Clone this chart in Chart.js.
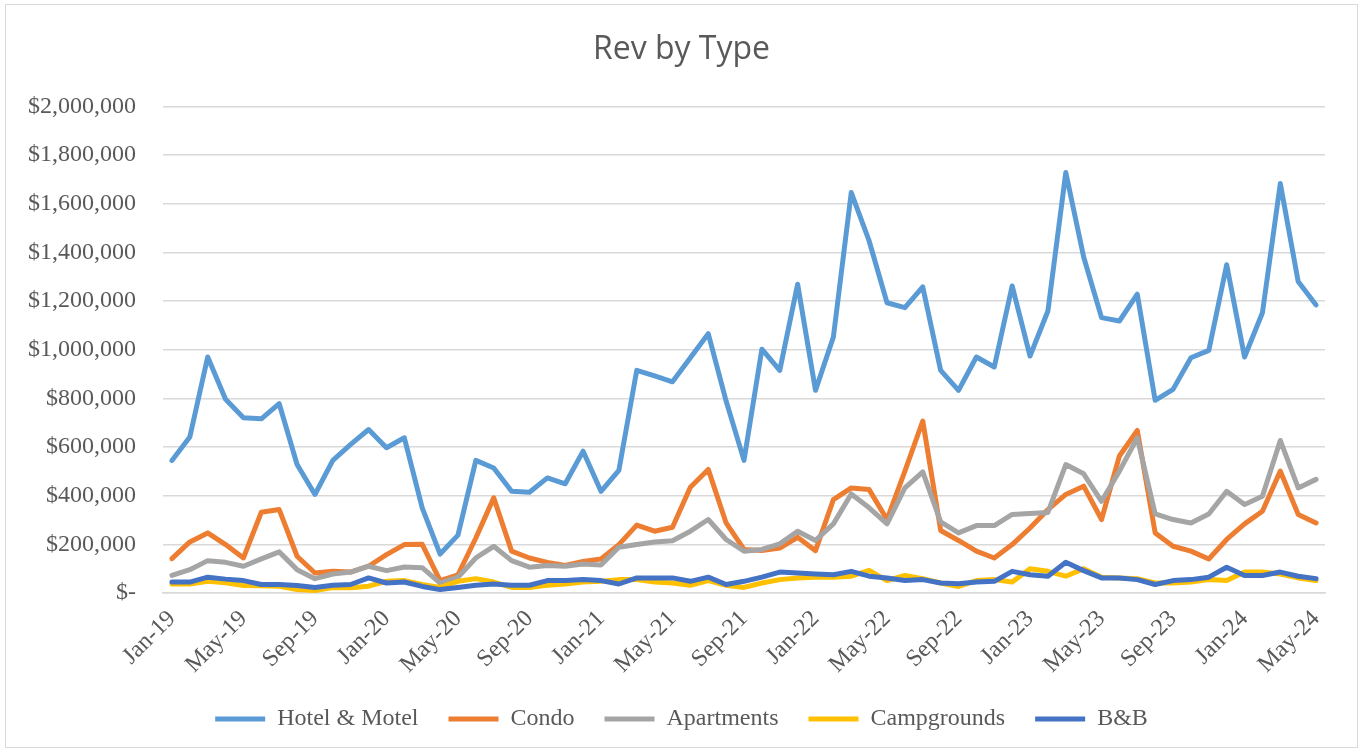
<!DOCTYPE html>
<html>
<head>
<meta charset="utf-8">
<script src="https://cdn.jsdelivr.net/npm/chart.js@4.4.1/dist/chart.umd.min.js"></script>
<style>
html, body { margin: 0; padding: 0; background: #fff; }
#wrap { position: absolute; left: 0; top: 0; width: 1363px; height: 751px; }
#frame { position: absolute; left: 5px; top: 4px; width: 1353px; height: 744px; border: 1px solid #d9d9d9; box-sizing: border-box; pointer-events: none; }
</style>
</head>
<body>
<div id="wrap">
  <canvas id="c" width="1363" height="751"></canvas>
  <div id="frame"></div>
</div>
<script>
// months, Jan-19 .. May-24
const months = [
  'Jan-19','Feb-19','Mar-19','Apr-19','May-19','Jun-19','Jul-19','Aug-19','Sep-19','Oct-19','Nov-19','Dec-19',
  'Jan-20','Feb-20','Mar-20','Apr-20','May-20','Jun-20','Jul-20','Aug-20','Sep-20','Oct-20','Nov-20','Dec-20',
  'Jan-21','Feb-21','Mar-21','Apr-21','May-21','Jun-21','Jul-21','Aug-21','Sep-21','Oct-21','Nov-21','Dec-21',
  'Jan-22','Feb-22','Mar-22','Apr-22','May-22','Jun-22','Jul-22','Aug-22','Sep-22','Oct-22','Nov-22','Dec-22',
  'Jan-23','Feb-23','Mar-23','Apr-23','May-23','Jun-23','Jul-23','Aug-23','Sep-23','Oct-23','Nov-23','Dec-23',
  'Jan-24','Feb-24','Mar-24','Apr-24','May-24'
]

// values in $ thousands
const hotelMotel = [545,641,970,796,720,716,778,528,405,545,611,672,
  597,638,350,160,238,545,514,418,414,473,449,583,
  418,504,915,892,868,967,1066,789,545,1002,915,1269,
  833,1052,1646,1447,1193,1173,1258,915,833,970,929,1262,
  974,1159,1728,1381,1132,1118,1228,792,837,967,997,1349,
  970,1152,1683,1280,1184]
const condo = [141,210,247,199,144,332,343,151,82,89,86,110,
  158,199,200,51,75,226,391,172,144,126,113,130,
  140,199,279,254,270,435,508,288,179,175,185,229,
  174,384,432,425,302,501,707,257,216,172,144,199,
  267,343,405,439,302,563,668,247,192,172,140,220,
  284,336,501,323,288]
const apartments = [72,96,133,126,110,140,169,96,59,78,86,110,
  92,107,104,41,65,144,192,133,106,113,110,119,
  115,188,199,210,215,254,302,220,172,179,202,254,
  216,284,407,350,284,432,498,292,247,277,277,323,
  327,331,528,490,377,501,638,325,302,288,325,418,
  364,398,627,432,467]
const campgrounds = [37,37,48,42,31,30,28,14,10,22,22,28,
  48,51,35,23,48,59,45,23,23,32,37,45,
  48,55,55,45,41,32,51,32,23,41,55,62,
  65,65,69,93,51,72,59,41,27,51,55,45,
  100,89,69,100,65,62,59,41,41,45,55,51,
  86,86,78,62,51]
const bnb = [45,45,65,57,51,35,35,31,23,32,35,62,
  41,45,27,14,23,32,37,32,32,51,51,55,
  51,37,62,62,62,48,65,35,48,65,86,82,
  78,75,89,69,62,51,55,41,38,45,48,89,
  75,69,126,92,62,62,55,35,51,55,65,106,
  72,72,86,69,59]

const names = ['Hotel & Motel', 'Condo', 'Apartments', 'Campgrounds', 'B&B']
const colors = ['#5B9BD5', '#ED7D31', '#A5A5A5', '#FFC000', '#4472C4']
const series = [hotelMotel, condo, apartments, campgrounds, bnb]

const serif = "'Liberation Serif', 'Times New Roman', serif"

function money(v) {
  if (v === 0) return '$-'
  return '$' + v.toLocaleString('en-US')
}

const datasets = series.map((vals, i) => ({
  label: names[i],
  data: vals.map(v => v * 1000),
  borderColor: colors[i],
  backgroundColor: colors[i],
  borderWidth: 5,
  borderJoinStyle: 'round',
  borderCapStyle: 'round',
  pointRadius: 0,
  tension: 0,
  fill: false,
  order: 5 - i
}))

new Chart(document.getElementById('c'), {
  type: 'line',
  data: { labels: months, datasets: datasets },
  options: {
    responsive: false,
    animation: false,
    layout: { padding: { left: 0, right: 0, top: 0, bottom: 10 } },
    plugins: {
      title: {
        display: true,
        text: 'Rev by Type',
        color: '#595959',
        font: { family: "'Open Sans', sans-serif", size: 32, weight: 'normal' },
        padding: { top: 31, bottom: 37 }
      },
      legend: {
        position: 'bottom',
        labels: {
          color: '#595959',
          font: { family: serif, size: 24 },
          usePointStyle: true,
          pointStyle: 'line',
          pointStyleWidth: 50,
          padding: 30,
          sort: (a, b) => a.datasetIndex - b.datasetIndex
        }
      },
      tooltip: { enabled: false }
    },
    scales: {
      x: {
        offset: true,
        grid: { display: false },
        border: { color: '#d9d9d9', width: 1.5 },
        ticks: {
          autoSkip: false,
          maxRotation: 45,
          minRotation: 45,
          padding: 4,
          color: '#595959',
          font: { family: serif, size: 24 },
          callback: function (v, i) { return i % 4 === 0 ? months[i] : '' }
        },
        afterFit: s => { s.height = 84 }
      },
      y: {
        min: 0,
        max: 2000000,
        grid: { color: '#d9d9d9', lineWidth: 1.5, drawTicks: false },
        border: { display: false },
        ticks: {
          stepSize: 200000,
          padding: 27,
          color: '#595959',
          font: { family: serif, size: 24 },
          callback: v => money(v)
        },
        afterFit: s => { s.width = 163 }
      },
      // empty right margin so the plot ends where the reference does
      yRight: {
        position: 'right',
        grid: { display: false },
        border: { display: false },
        ticks: { display: false },
        afterFit: s => { s.width = 38 }
      }
    }
  }
})
</script>
</body>
</html>
